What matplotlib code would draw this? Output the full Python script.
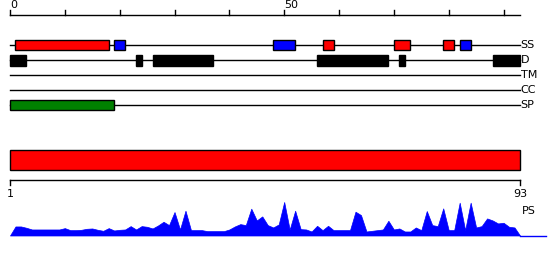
import matplotlib.pyplot as plt
import numpy as np

#Protein feature map, 93 residues

length = 93

#feature tracks: (start residue, end residue)
ss_helix = [(2, 18), (58, 59), (71, 73), (80, 81)]
ss_strand = [(20, 21), (49, 52), (83, 84)]
disorder = [(1, 3), (24, 24), (27, 37), (57, 69), (72, 72), (89, 93)]
signal_peptide = [(1, 19)]
track_names = ["SS", "D", "TM", "CC", "SP"]

#PS profile score at positions 0..93
ps_score = [0.00, 0.27, 0.27, 0.23, 0.18, 0.18, 0.18, 0.18, 0.18, 0.18,
            0.22, 0.16, 0.16, 0.17, 0.20, 0.21, 0.17, 0.14, 0.22, 0.15,
            0.17, 0.18, 0.28, 0.18, 0.28, 0.26, 0.21, 0.30, 0.41, 0.31,
            0.70, 0.18, 0.74, 0.16, 0.16, 0.16, 0.13, 0.13, 0.13, 0.13,
            0.18, 0.27, 0.34, 0.31, 0.80, 0.45, 0.57, 0.31, 0.24, 0.33,
            1.00, 0.18, 0.74, 0.19, 0.18, 0.12, 0.29, 0.16, 0.29, 0.16,
            0.16, 0.16, 0.16, 0.71, 0.61, 0.12, 0.14, 0.16, 0.18, 0.44,
            0.18, 0.21, 0.12, 0.12, 0.24, 0.16, 0.73, 0.31, 0.28, 0.81,
            0.16, 0.16, 0.98, 0.16, 0.98, 0.24, 0.28, 0.51, 0.45, 0.36,
            0.38, 0.26, 0.24, 0.00]

fig = plt.figure(figsize=(5.5, 2.6), dpi=100)
ax = fig.add_axes([0, 0, 1, 1])
s = 510 / length  # pixels per residue
ax.set_xlim(-10 / s, 540 / s)
ax.set_ylim(260, 0)
ax.axis("off")

lw = 1.0
row_y = [45, 60, 75, 90, 105]

#track lines and names
for name, y in zip(track_names, row_y):
    ax.plot([0, length], [y, y], color="black", lw=lw)
    ax.text(length + 0.1, y, name, fontsize=8, va="center", ha="left")

def boxes(feats, y, h, color):
    for a, b in feats:
        ax.add_patch(plt.Rectangle((a - 1, y - h / 2), b - a + 1, h,
                                   facecolor=color, edgecolor="black", lw=lw, zorder=3))

boxes(ss_helix, 45, 10, "red")
boxes(ss_strand, 45, 10, "blue")
boxes(disorder, 60, 11, "black")
boxes(signal_peptide, 105, 10, "green")

#top ruler
ax.plot([0, length], [15, 15], color="black", lw=lw)
for t in range(0, length, 10):
    ax.plot([t, t], [10, 15], color="black", lw=lw)
for t in [0, 50]:
    ax.text(t, 10, str(t), fontsize=8, ha="left", va="bottom")

#full length bar
ax.add_patch(plt.Rectangle((0, 150), length, 20, facecolor="red", edgecolor="black", lw=lw))

#bottom ruler
ax.plot([0, length], [180, 180], color="black", lw=lw)
ax.plot([0, 0], [180, 185], color="black", lw=lw)
ax.plot([length, length], [180, 185], color="black", lw=lw)
ax.text(0, 189, "1", fontsize=8, ha="center", va="top")
ax.text(length, 189, str(length), fontsize=8, ha="center", va="top")
ax.text(length + 0.3, 211, "PS", fontsize=8, ha="left", va="center")

#PS profile
base = 235.5
pos = np.arange(len(ps_score))
ax.fill_between(pos, base, base - np.array(ps_score) * 33.5, color="blue", lw=0.5)
ax.plot([length, 536 / s], [base, base], color="blue", lw=lw)

plt.savefig("out.png", dpi=100)
